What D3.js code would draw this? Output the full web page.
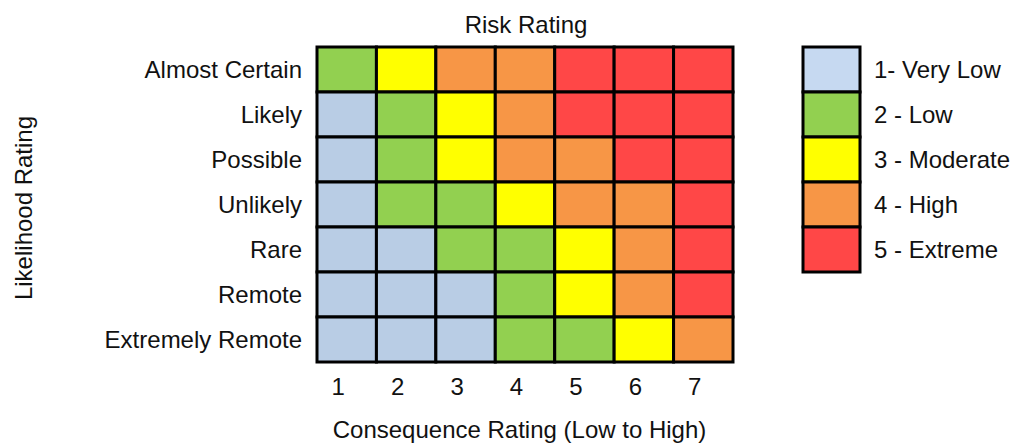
<!DOCTYPE html>
<html>
<head>
<meta charset="utf-8">
<script src="https://cdn.jsdelivr.net/npm/d3@7"></script>
<style>
  html, body { margin: 0; padding: 0; background: #fff; }
  svg { display: block; font-family: "Liberation Sans", Arial, sans-serif; }
</style>
</head>
<body>
<svg id="chart" width="1013" height="444"></svg>
<script>
// Likelihood rows (top to bottom) and consequence columns
const likelihoods = ["Almost Certain", "Likely", "Possible", "Unlikely", "Rare", "Remote", "Extremely Remote"];
const consequences = ["1", "2", "3", "4", "5", "6", "7"];

// Risk level per likelihood row, one entry per consequence column
const riskLevels = [
  [2, 3, 4, 4, 5, 5, 5],
  [1, 2, 3, 4, 5, 5, 5],
  [1, 2, 3, 4, 4, 5, 5],
  [1, 2, 2, 3, 4, 4, 5],
  [1, 1, 2, 2, 3, 4, 5],
  [1, 1, 1, 2, 3, 4, 5],
  [1, 1, 1, 2, 2, 3, 4]
];

// Legend entries
const levelIds = [1, 2, 3, 4, 5];
const levelLabels = ["1- Very Low", "2 - Low", "3 - Moderate", "4 - High", "5 - Extreme"];
const cellColors = ["#B9CDE5", "#92D050", "#FFFF00", "#F79646", "#FF4747"];
const legendColors = ["#C6D9F1", "#92D050", "#FFFF00", "#F79646", "#FF4747"];

const svg = d3.select("#chart");
const fontSize = 24;

const grid = { left: 317, top: 47, width: 416, height: 315 };

const x = d3.scaleBand().domain(consequences).range([grid.left, grid.left + grid.width]);
const y = d3.scaleBand().domain(likelihoods).range([grid.top, grid.top + grid.height]);
const cellColor = d3.scaleOrdinal().domain(levelIds).range(cellColors);

const cells = [];
riskLevels.forEach((row, i) => row.forEach((v, j) => cells.push({ lk: likelihoods[i], cq: consequences[j], v })));

svg.append("g").selectAll("rect").data(cells).join("rect")
  .attr("x", d => x(d.cq))
  .attr("y", d => y(d.lk))
  .attr("width", x.bandwidth())
  .attr("height", y.bandwidth())
  .attr("fill", d => cellColor(d.v))
  .attr("stroke", "#000")
  .attr("stroke-width", 3);

// Row labels
svg.append("g").selectAll("text").data(likelihoods).join("text")
  .attr("x", grid.left - 15)
  .attr("y", d => y(d) + y.bandwidth() / 2)
  .attr("dy", "0.36em")
  .attr("text-anchor", "end")
  .attr("font-size", fontSize)
  .attr("fill", "#111")
  .text(d => d);

// Column labels
svg.append("g").selectAll("text").data(consequences).join("text")
  .attr("x", d => x(d) + x.bandwidth() / 2 - 8.5)
  .attr("y", 395)
  .attr("text-anchor", "middle")
  .attr("font-size", fontSize)
  .attr("fill", "#111")
  .text(d => d);

// Titles
svg.append("text")
  .attr("x", grid.left + grid.width / 2 + 1)
  .attr("y", 33)
  .attr("text-anchor", "middle")
  .attr("font-size", fontSize)
  .attr("fill", "#111")
  .text("Risk Rating");

svg.append("text")
  .attr("x", grid.left + grid.width / 2 - 5.5)
  .attr("y", 438)
  .attr("text-anchor", "middle")
  .attr("font-size", fontSize)
  .attr("fill", "#111")
  .text("Consequence Rating (Low to High)");

svg.append("text")
  .attr("transform", "translate(32,208) rotate(-90)")
  .attr("text-anchor", "middle")
  .attr("font-size", fontSize)
  .attr("fill", "#111")
  .text("Likelihood Rating");

// Legend
const ly = d3.scaleBand().domain(levelIds).range([47, 272]);
const legendColor = d3.scaleOrdinal().domain(levelIds).range(legendColors);
const legend = svg.append("g");
legend.selectAll("rect").data(levelIds).join("rect")
  .attr("x", 803)
  .attr("y", d => ly(d))
  .attr("width", 57)
  .attr("height", ly.bandwidth())
  .attr("fill", d => legendColor(d))
  .attr("stroke", "#000")
  .attr("stroke-width", 3);
legend.selectAll("text").data(levelIds).join("text")
  .attr("x", 874)
  .attr("y", d => ly(d) + ly.bandwidth() / 2)
  .attr("dy", "0.36em")
  .attr("font-size", fontSize)
  .attr("fill", "#111")
  .text((d, i) => levelLabels[i]);
</script>
</body>
</html>
